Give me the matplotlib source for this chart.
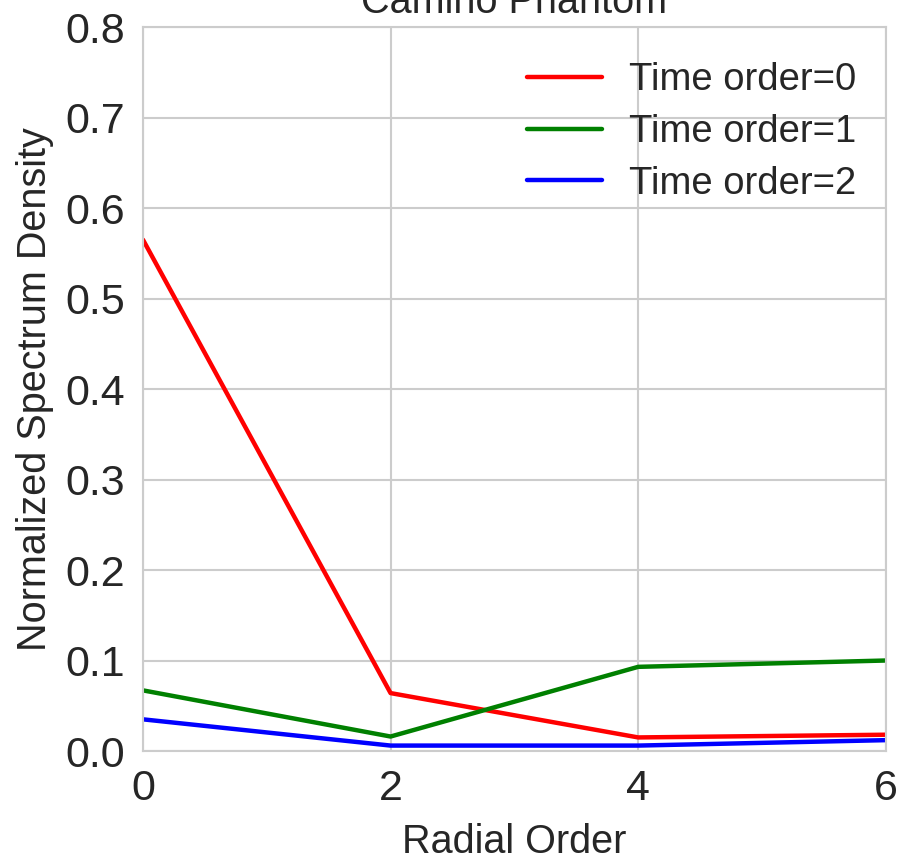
import matplotlib
matplotlib.use("Agg")
import matplotlib.pyplot as plt
import seaborn as sns

# values
radial_order = [0, 2, 4, 6]
time_order_0 = [0.565, 0.064, 0.015, 0.018]
time_order_1 = [0.067, 0.016, 0.093, 0.100]
time_order_2 = [0.035, 0.006, 0.006, 0.012]
labels = ["Time order=0", "Time order=1", "Time order=2"]
colors = ["red", "green", "blue"]

sns.set_style("whitegrid")
plt.rcParams["font.family"] = ["Liberation Sans", "DejaVu Sans"]
plt.rcParams["text.color"] = "#262626"
plt.rcParams["axes.labelcolor"] = "#262626"
plt.rcParams["xtick.color"] = "#262626"
plt.rcParams["ytick.color"] = "#262626"

fig = plt.figure(figsize=(9.02, 8.58), dpi=100)
ax = fig.add_axes([0.1585, 0.1247, 0.8235, 0.8438])

for ys, lab, col in zip([time_order_0, time_order_1, time_order_2], labels, colors):
    ax.plot(radial_order, ys, color=col, lw=3.2, label=lab)

ax.set_xlim(0, 6)
ax.set_ylim(0, 0.8)
ax.set_xticks([0, 2, 4, 6])
ax.set_yticks([0.0, 0.1, 0.2, 0.3, 0.4, 0.5, 0.6, 0.7, 0.8])
ax.tick_params(axis="both", labelsize=31, length=0)
ax.tick_params(axis="y", pad=13)
ax.tick_params(axis="x", pad=13)
for s in ax.spines.values():
    s.set_linewidth(1.5)
    s.set_color("#cccccc")
ax.grid(True, lw=1.5, color="#cccccc")

ax.set_xlabel("Radial Order", fontsize=28.5, labelpad=10)
ax.set_ylabel("Normalized Spectrum Density", fontsize=28.5, labelpad=8)
ax.set_title("Camino Phantom", fontsize=28.5, pad=10)

ax.legend(loc="upper right", bbox_to_anchor=(1.0, 0.9917), fontsize=27.5,
          frameon=False, handlelength=1.95, handletextpad=0.72,
          labelspacing=0.41, borderaxespad=0.37)

fig.savefig("out.png", dpi=100)
